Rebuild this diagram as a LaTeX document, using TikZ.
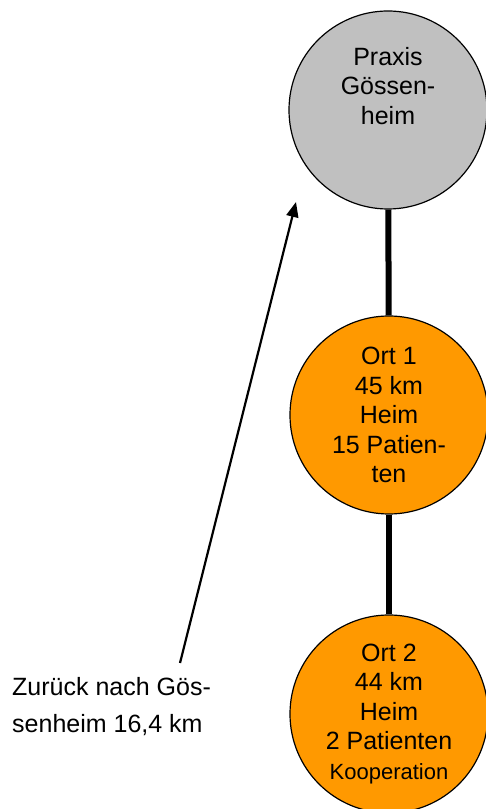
\documentclass[tikz,border=0pt]{standalone}
\usepackage{fontspec}
\setmainfont{Liberation Sans}
\usetikzlibrary{arrows.meta}
\definecolor{praxisgray}{RGB}{192,192,192}
\definecolor{ortorange}{RGB}{255,153,0}
\begin{document}
\begin{tikzpicture}
[x=1pt,y=1pt,
  praxisdecorate/.style={shape=circle,minimum size=198pt,inner sep=0pt,draw,line width=1.2pt,fill=praxisgray},%
  ortdecorate/.style={praxisdecorate,fill=ortorange},%
  textdecorate/.style={font=\fontsize{25}{29.5}\selectfont,align=center,inner sep=0pt},%
  linedecorate/.style={-,line width=6pt},%
  arrowdecorate/.style={-{Triangle[length=15pt,width=12pt]},line width=2.2pt}]
\useasboundingbox (0,0) rectangle (486,809);
%% nodes or vertices
\node (praxis) at (388,699) [praxisdecorate] {};
\node (praxistext) at (388,762) [textdecorate,anchor=north] {Praxis\\Gössen-\\heim};
\node (ort1) at (389,394) [ortdecorate,textdecorate] {Ort 1\\45 km\\Heim\\15 Patien-\\ten};
\node (ort2) at (389,95) [ortdecorate,textdecorate]
  {Ort 2\\44 km\\Heim\\2 Patienten\\{\fontsize{22}{25}\selectfont Kooperation}};
\node (zurueck) at (12,76) [textdecorate,align=left,anchor=base west,
  font=\fontsize{25}{37}\selectfont] {Zurück nach Gös-\\senheim 16,4 km};
%% edges or lines
\path
\foreach \startnode/\endnode in {praxis/ort1, ort1/ort2} {
  (\startnode) edge[linedecorate] (\endnode)
};
\coordinate (rueckstart) at (180,146);
\coordinate (rueckend) at (296,607);
\draw[arrowdecorate] (rueckstart) -- (rueckend);
\end{tikzpicture}
\end{document}
